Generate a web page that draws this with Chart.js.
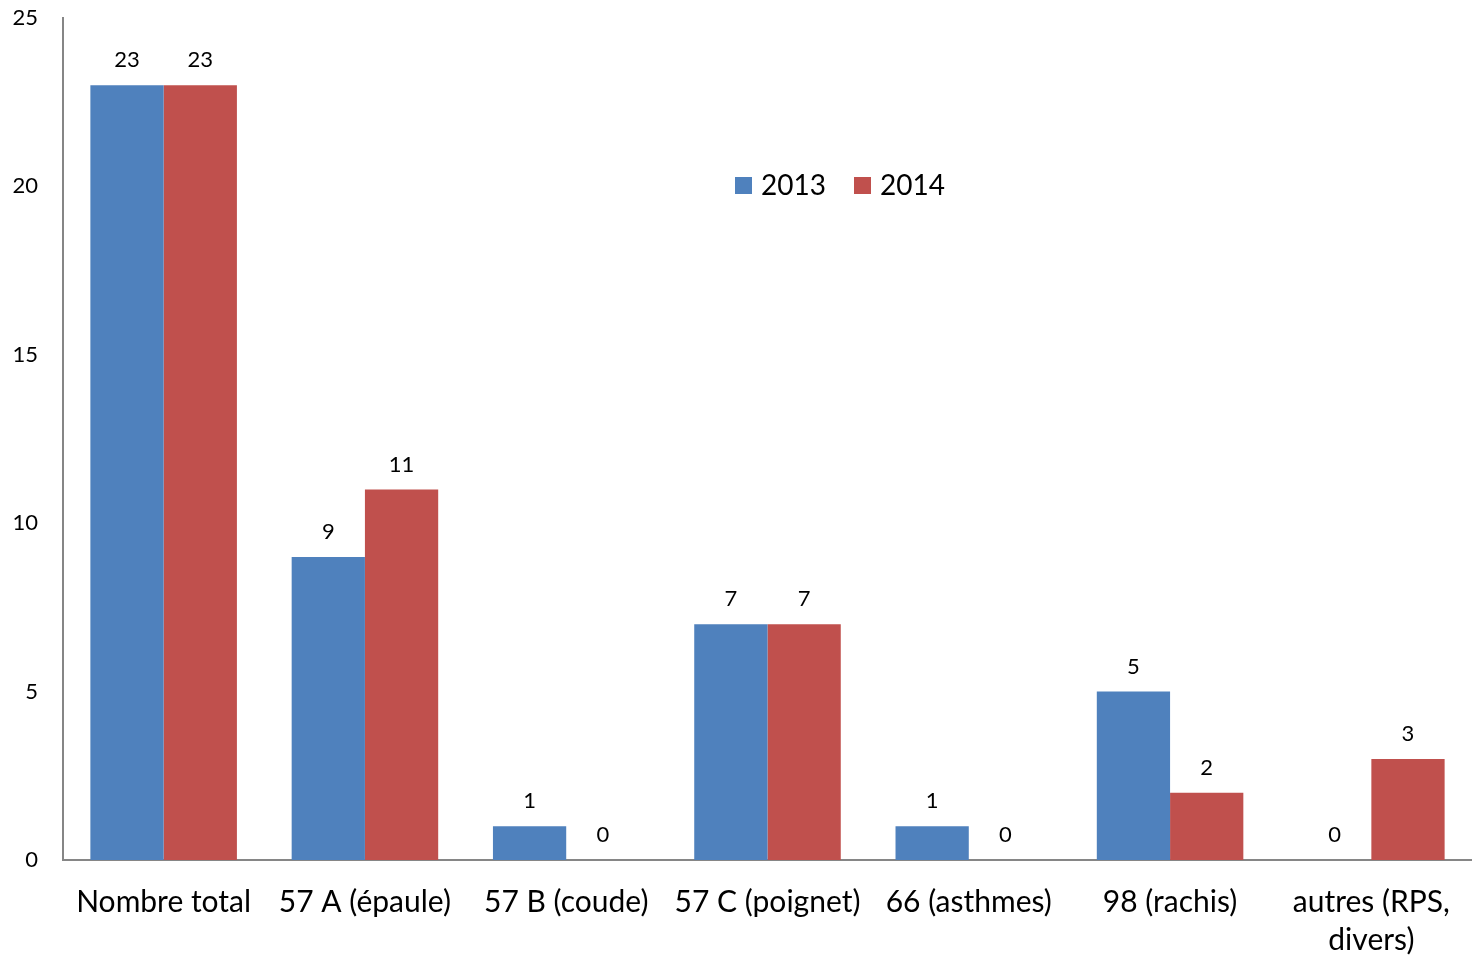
<!DOCTYPE html>
<html>
<head>
<meta charset="utf-8">
<script src="https://cdn.jsdelivr.net/npm/chart.js@4/dist/chart.umd.min.js"></script>
<style>
  html, body { margin: 0; padding: 0; background: #fff; }
  #wrap { width: 1472px; height: 957px; }
</style>
</head>
<body>
<div id="wrap"><canvas id="chart"></canvas></div>
<script>
// --- données ---
const categories = [
  'Nombre total', '57 A (épaule)', '57 B (coude)', '57 C (poignet)',
  '66 (asthmes)', '98 (rachis)', ['autres (RPS,', 'divers)']
];
const values2013 = [23, 9, 1, 7, 1, 5, 0];
const values2014 = [23, 11, 0, 7, 0, 2, 3];
const seriesNames = ['2013', '2014'];
const yTicks = [0, 5, 10, 15, 20, 25];

const FONT = 'Lato, "Open Sans", sans-serif';
const BLUE = '#4F81BD';
const RED = '#C0504D';

// étiquettes de valeur au-dessus des barres + légende au centre
const labelsPlugin = {
  id: 'valueLabels',
  afterDatasetsDraw(chart) {
    const ctx = chart.ctx;
    ctx.save();
    ctx.font = '22px ' + FONT;
    ctx.fillStyle = '#000';
    ctx.textAlign = 'center';
    ctx.textBaseline = 'middle';
    chart.data.datasets.forEach((ds, i) => {
      chart.getDatasetMeta(i).data.forEach((bar, j) => {
        ctx.fillText(String(ds.data[j]), bar.x, bar.y - 25);
      });
    });

    // légende
    ctx.font = '28px ' + FONT;
    ctx.textAlign = 'left';
    let x = 735;
    const y = 186;
    chart.data.datasets.forEach(ds => {
      ctx.fillStyle = ds.backgroundColor;
      ctx.fillRect(x, y - 9, 17, 17);
      ctx.fillStyle = '#000';
      ctx.fillText(ds.label, x + 26, y);
      x += 119;
    });
    ctx.restore();
  }
};

new Chart(document.getElementById('chart'), {
  type: 'bar',
  data: {
    labels: categories,
    datasets: [
      { label: seriesNames[0], data: values2013, backgroundColor: BLUE },
      { label: seriesNames[1], data: values2014, backgroundColor: RED }
    ]
  },
  options: {
    responsive: true,
    maintainAspectRatio: false,
    animation: false,
    categoryPercentage: 0.728,
    barPercentage: 1.0,
    layout: { padding: { top: 18, right: -4, left: 0, bottom: 0 } },
    scales: {
      x: {
        grid: { display: false, drawTicks: false },
        border: { display: true, color: '#868686', width: 2 },
        ticks: {
          color: '#000',
          font: { family: FONT, size: 30, lineHeight: 1.27 },
          padding: 23,
          maxRotation: 0,
          autoSkip: false
        },
        afterFit(scale) {
          scale.height = 97;
          scale.paddingLeft = 0;
          scale.paddingRight = 0;
        }
      },
      y: {
        min: 0,
        max: 25,
        afterBuildTicks(scale) { scale.ticks = yTicks.map(v => ({ value: v })); },
        grid: { display: false, drawTicks: false },
        border: { display: true, color: '#868686', width: 2 },
        ticks: {
          color: '#000',
          font: { family: FONT, size: 22 },
          padding: 25
        },
        afterFit(scale) {
          scale.width = 63;
          scale.paddingTop = 0;
          scale.paddingBottom = 0;
        }
      }
    },
    plugins: {
      legend: { display: false },
      tooltip: { enabled: false }
    }
  },
  plugins: [labelsPlugin]
});
</script>
</body>
</html>
